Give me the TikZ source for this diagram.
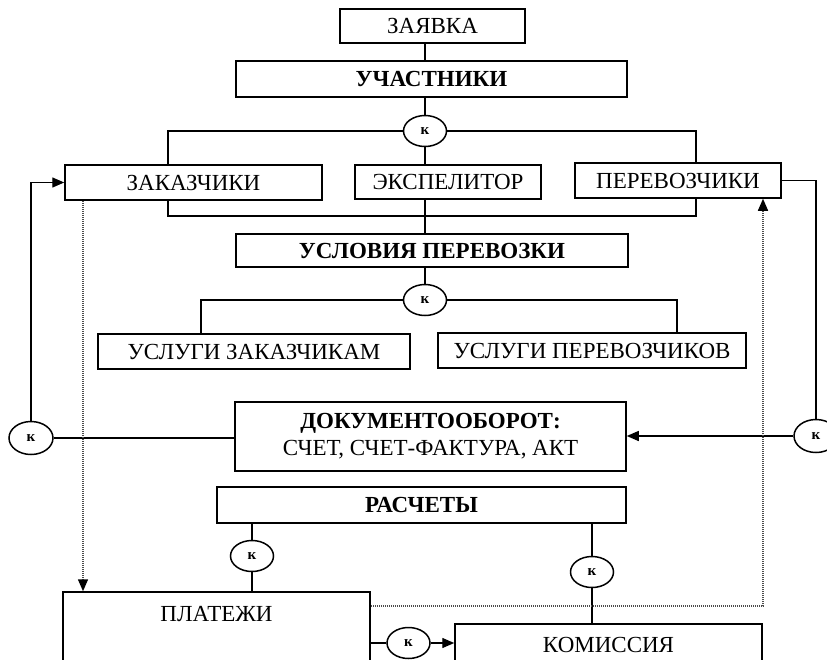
\documentclass[tikz,border=0pt]{standalone}
\usepackage{fontspec}
\setmainfont{Liberation Serif}
\usetikzlibrary{arrows.meta,shapes.geometric}
\begin{document}
\begin{tikzpicture}[x=1pt,y=-1pt,
  boxn/.style={draw, line width=1.5pt, inner sep=0pt, align=center, font=\fontsize{23}{27}\selectfont},
  boldn/.style={boxn, font=\fontsize{23}{27}\selectfont\bfseries},
  plain/.style={inner sep=0pt, font=\fontsize{23}{27}\selectfont},
  kcirc/.style={draw, ellipse, line width=1.5pt, minimum width=43pt, minimum height=31pt, inner sep=0pt, fill=white, font=\fontsize{15}{15}\selectfont\bfseries},
  conn/.style={line width=1.4pt},
  arr/.style={conn, -{Triangle[length=12pt,width=10pt]}},
  dots/.style={line width=1.5pt, black!70, dash pattern=on 1pt off 1pt},
  darr/.style={dots, -{Triangle[length=12pt,width=10pt,color=black]}}
]
\clip (0,0) rectangle (827,659);
\fill[white] (0,0) rectangle (827,659);

% boxes
\node[boxn, minimum width=185pt, minimum height=34pt] (zay) at (432.5,26) {ЗАЯВКА};
\node[boldn, minimum width=391pt, minimum height=36pt] (uch) at (431.5,79) {УЧАСТНИКИ};
\node[kcirc] (c1) at (425,131) {к};
\node[boxn, minimum width=257pt, minimum height=35pt] (zak) at (193.5,182.5) {ЗАКАЗЧИКИ};
\node[boxn, minimum width=186pt, minimum height=34pt] (eks) at (448,182) {ЭКСПЕЛИТОР};
\node[boxn, minimum width=206pt, minimum height=35pt] (per) at (678,180.5) {ПЕРЕВОЗЧИКИ};
\node[boldn, minimum width=392pt, minimum height=33pt] (usl) at (432,250.5) {УСЛОВИЯ ПЕРЕВОЗКИ};
\node[kcirc] (c2) at (425,300) {к};
\node[boxn, minimum width=312pt, minimum height=35pt] (uz) at (254,351.5) {УСЛУГИ ЗАКАЗЧИКАМ};
\node[boxn, minimum width=308pt, minimum height=35pt] (up) at (592,350.5) {УСЛУГИ ПЕРЕВОЗЧИКОВ};
\node[boxn, minimum width=391pt, minimum height=69pt] (doc) at (430.5,436.5) {\textbf{ДОКУМЕНТООБОРОТ:}\\СЧЕТ, СЧЕТ-ФАКТУРА, АКТ};
\node[kcirc, minimum width=44pt, minimum height=33pt] (cL) at (31,438) {к};
\node[kcirc, minimum width=44pt, minimum height=33pt] (cR) at (816,436) {к};
\node[boldn, minimum width=409pt, minimum height=36pt] (ras) at (421.5,505) {РАСЧЕТЫ};
\node[kcirc] (c3) at (252,556) {к};
\node[kcirc] (c4) at (592,572) {к};
\node[boxn, minimum width=307pt, minimum height=80pt] (pla) at (216.5,632) {};
\node[plain] (plaT) at (216.5,614) {ПЛАТЕЖИ};
\node[boxn, minimum width=307pt, minimum height=42pt] (kom) at (608.5,645) {КОМИССИЯ};
\node[kcirc] (c5) at (408.5,643) {к};

% top tree
\draw[conn] (zay.south -| c1) -- (uch.north -| c1);
\draw[conn] (uch.south -| c1) -- (c1.north);
\draw[conn] (c1.west) -| (168,0 |- zak.north);
\draw[conn] (c1.east) -| (696,0 |- per.north);
\draw[conn] (c1.south) -- (c1 |- eks.north);
\draw[conn] (168,0 |- zak.south) -- (168,216) -- (696,216) -- (696,0 |- per.south);
\draw[conn] (c1 |- eks.south) -- (c1 |- usl.north);

% second tree
\draw[conn] (c2 |- usl.south) -- (c2.north);
\draw[conn] (c2.west) -| (201,0 |- uz.north);
\draw[conn] (c2.east) -| (677,0 |- up.north);

% side loops
\draw[conn] (doc.west |- cL) -- (cL.east);
\draw[arr] (cL.north) |- (zak.west);
\draw[conn] (per.east) -| (cR.north);
\draw[arr] (cR.west) -- (doc.east |- cR);

% payments
\draw[conn] (c3 |- ras.south) -- (c3.north);
\draw[conn] (c3.south) -- (c3 |- pla.north);
\draw[conn] (c4 |- ras.south) -- (c4.north);
\draw[conn] (c4.south) -- (c4 |- kom.north);
\draw[conn] (pla.east |- c5) -- (c5.west);
\draw[arr] (c5.east) -- (kom.west |- c5);

% dotted links
\draw[darr] (83,0 |- zak.south) -- (83,0 |- pla.north);
\coordinate (dR) at (763,606);
\draw[darr] (pla.east |- dR) -- (dR) -- (dR |- per.south);
\end{tikzpicture}
\end{document}
